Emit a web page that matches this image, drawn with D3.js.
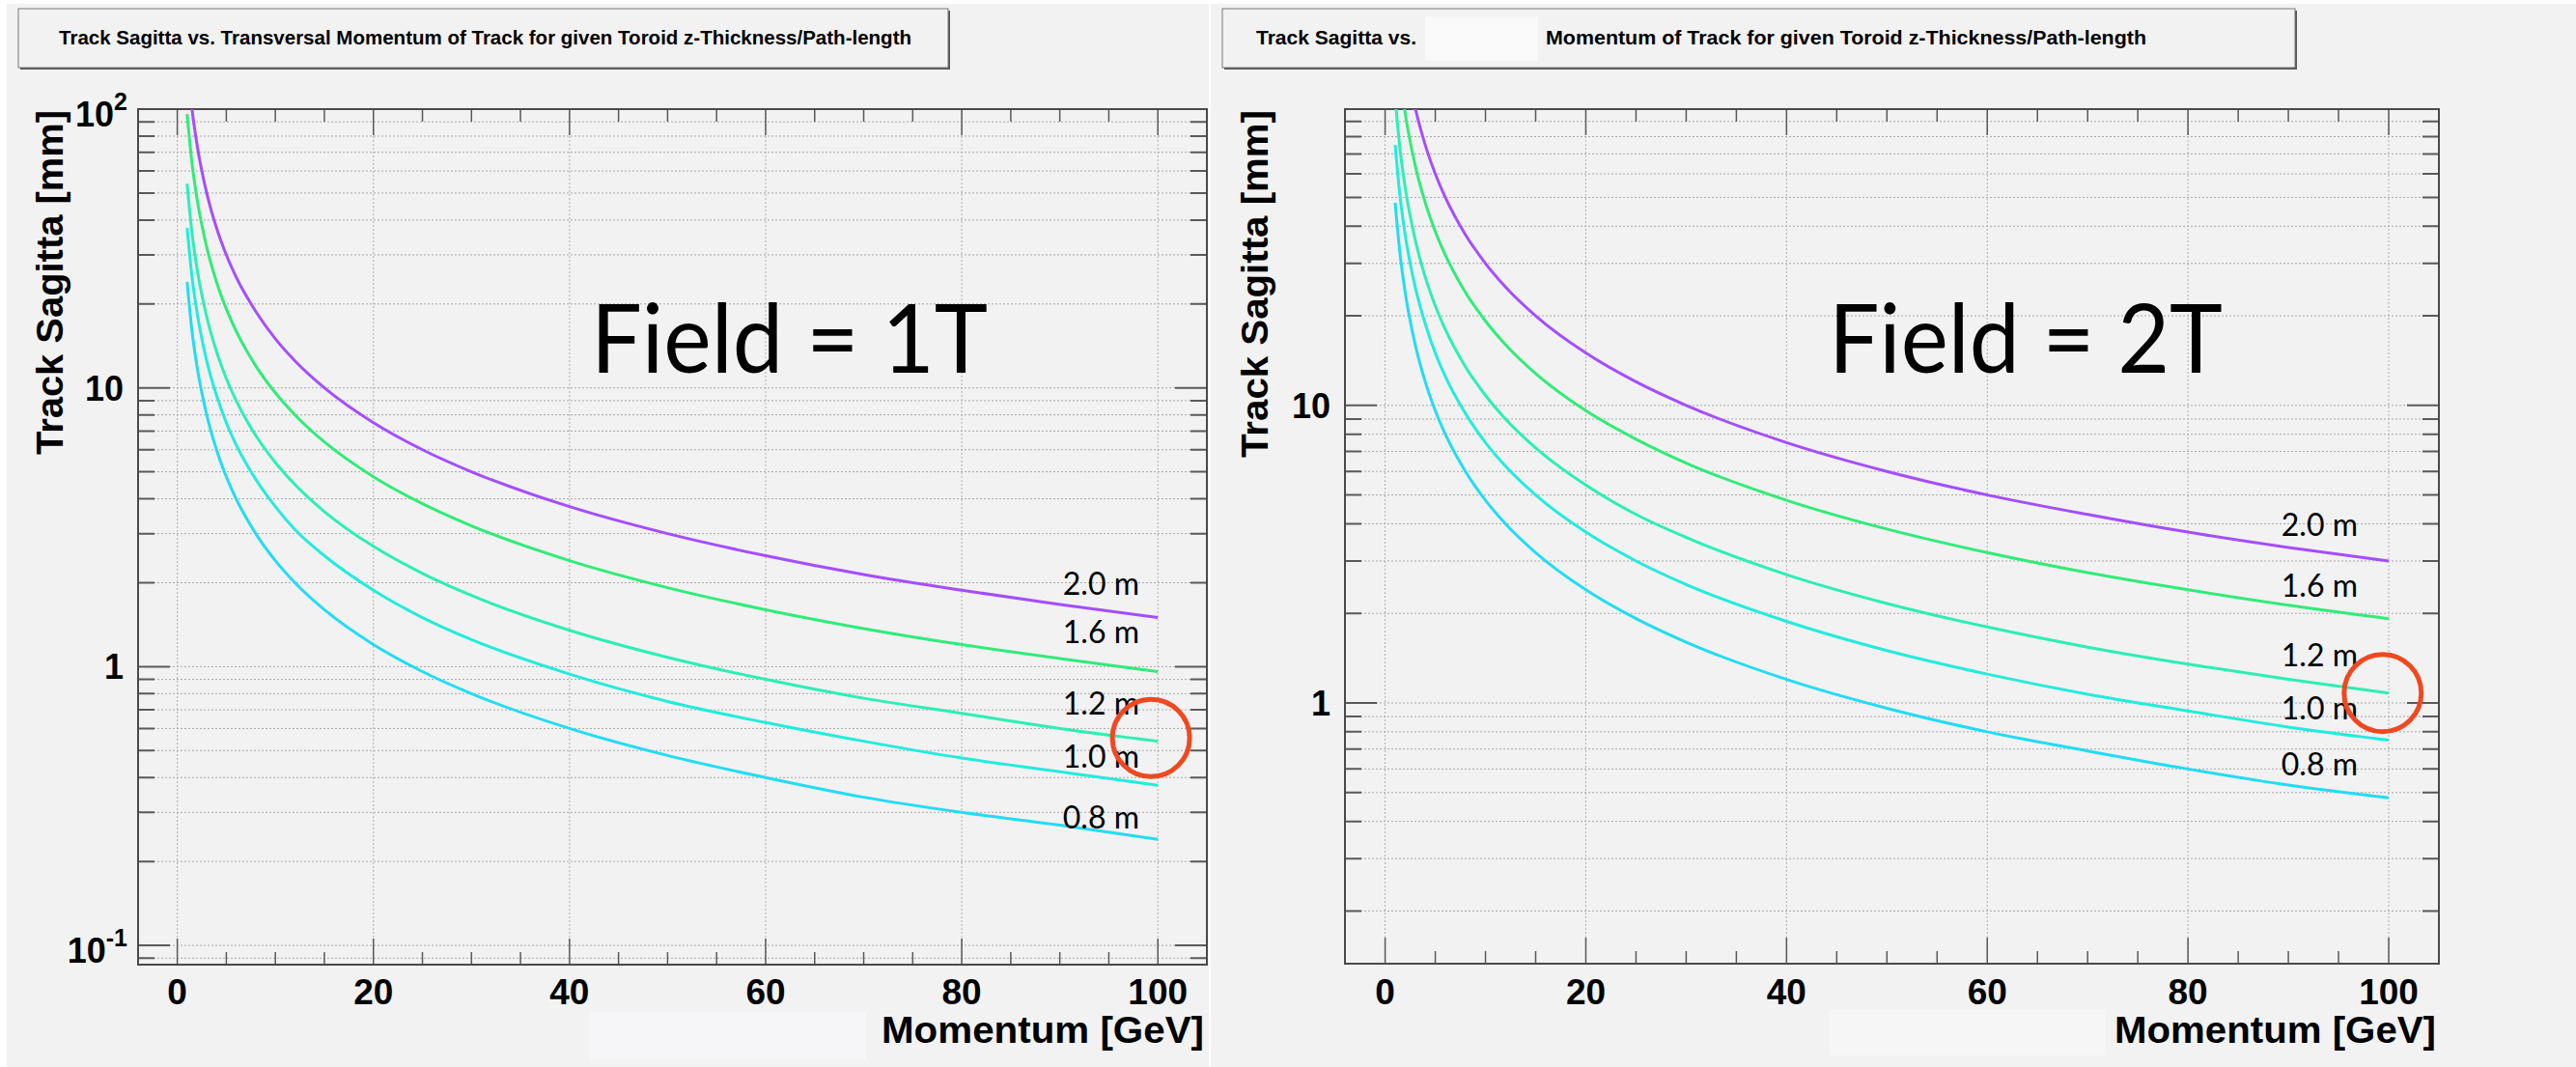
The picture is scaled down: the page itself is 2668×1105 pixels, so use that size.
<!DOCTYPE html>
<html>
<head>
<meta charset="utf-8">
<script src="https://cdn.jsdelivr.net/npm/d3@7"></script>
<style>
body { margin: 0; background: #fff; }
svg { display: block; }
</style>
</head>
<body>
<script>
const width = 2668;
const height = 1105;

// momentum values [GeV] where the curves were read
const momentum = [1, 1.5, 2, 3, 4, 5, 6, 8, 10, 12, 15, 20, 25, 30, 40, 50, 60, 70, 80, 90, 100];
const pathLengths = ["2.0 m", "1.6 m", "1.2 m", "1.0 m", "0.8 m"];

// sagitta [mm], field = 1T
const sagitta1T = [
	[150, 100, 75, 50, 37.5, 30, 25, 18.8, 15, 12.5, 10, 7.5, 6.0, 5.0, 3.75, 3.0, 2.5, 2.14, 1.88, 1.67, 1.5],
	[96, 64, 48, 32, 24, 19.2, 16, 12, 9.6, 8.0, 6.4, 4.8, 3.84, 3.2, 2.4, 1.92, 1.6, 1.37, 1.2, 1.07, 0.96],
	[54, 36, 27, 18, 13.5, 10.8, 9.0, 6.75, 5.4, 4.5, 3.6, 2.7, 2.16, 1.8, 1.35, 1.08, 0.9, 0.77, 0.68, 0.6, 0.54],
	[37.5, 25, 18.8, 12.5, 9.4, 7.5, 6.25, 4.7, 3.75, 3.1, 2.5, 1.88, 1.5, 1.25, 0.94, 0.75, 0.63, 0.54, 0.47, 0.42, 0.375],
	[24, 16, 12, 8, 6, 4.8, 4, 3, 2.4, 2, 1.6, 1.2, 0.96, 0.8, 0.6, 0.48, 0.4, 0.34, 0.3, 0.27, 0.24]
];
// sagitta [mm], field = 2T
const sagitta2T = [
	[300, 200, 150, 100, 75, 60, 50, 37.5, 30, 25, 20, 15, 12, 10, 7.5, 6, 5, 4.3, 3.75, 3.33, 3.0],
	[192, 128, 96, 64, 48, 38.4, 32, 24, 19.2, 16, 12.8, 9.6, 7.7, 6.4, 4.8, 3.84, 3.2, 2.74, 2.4, 2.13, 1.92],
	[108, 72, 54, 36, 27, 21.6, 18, 13.5, 10.8, 9, 7.2, 5.4, 4.3, 3.6, 2.7, 2.16, 1.8, 1.54, 1.35, 1.2, 1.08],
	[75, 50, 37.5, 25, 18.8, 15, 12.5, 9.4, 7.5, 6.25, 5, 3.75, 3, 2.5, 1.88, 1.5, 1.25, 1.07, 0.94, 0.83, 0.75],
	[48, 32, 24, 16, 12, 9.6, 8, 6, 4.8, 4, 3.2, 2.4, 1.92, 1.6, 1.2, 0.96, 0.8, 0.69, 0.6, 0.53, 0.48]
];

const xTickLabels = [0, 20, 40, 60, 80, 100];
const fieldLabels = ["Field = 1T", "Field = 2T"];
const titleText = "Track Sagitta vs. Transversal Momentum of Track for given Toroid z-Thickness/Path-length";
const titleParts = ["Track Sagitta vs.", "Momentum of Track for given Toroid z-Thickness/Path-length"];
const yTitle = "Track Sagitta [mm]";
const xTitle = "Momentum [GeV]";

const colors = ["#a44eff", "#30ec78", "#2cefb4", "#22ecdc", "#22dcf4"];

const svg = d3.select("body")
	.append("svg")
	.attr("width", width)
	.attr("height", height);

const panels = [
	{ bgX: 7, bgW: 1245, left: 143, right: 1250, top: 113, bottom: 999, yDomain: [0.0853, 100],
	  data: sagitta1T, field: fieldLabels[0], fieldX: 612, fieldW: 411,
	  yTitleX: 65, yTitleLen: 357, xTitleLen: 334,
	  labelX: 1180, labelAt: [1.816, 1.21, 0.672, 0.434, 0.263], circle: [99.3, 0.555], id: "a" },
	{ bgX: 1254, bgW: 1414, left: 1393, right: 2526, top: 113, bottom: 998, yDomain: [0.133, 99],
	  data: sagitta2T, field: fieldLabels[1], fieldX: 1894, fieldW: 408,
	  yTitleX: 1313, yTitleLen: 360, xTitleLen: 333,
	  labelX: 2442, labelAt: [3.63, 2.27, 1.33, 0.88, 0.57], circle: [99.4, 1.08], id: "b" }
];

function supLabel(sel, base, exp) {
	sel.append("tspan").text(base);
	sel.append("tspan").attr("font-size", 25).attr("dy", -17).text(exp);
}

function drawPanel(p) {
	const g = svg.append("g");

	g.append("rect")
		.attr("x", p.bgX).attr("y", 4)
		.attr("width", p.bgW).attr("height", height - 4)
		.attr("fill", "#f2f2f2");

	const x = d3.scaleLinear().domain([-4, 105]).range([p.left, p.right]);
	const y = d3.scaleLog().domain(p.yDomain).range([p.bottom, p.top]);

	const yTicks = y.ticks().filter(v => v >= p.yDomain[0] && v <= p.yDomain[1]);
	const isMajor = v => Math.abs(Math.log10(v) - Math.round(Math.log10(v))) < 1e-9;
	const xMinor = x.ticks(20).filter(v => v >= 0 && v <= 100);

	// grid
	g.selectAll(".hgrid")
		.data(yTicks)
		.enter()
		.append("line")
		.attr("x1", p.left).attr("x2", p.right)
		.attr("y1", d => y(d)).attr("y2", d => y(d))
		.style("stroke", "#a8a8a8")
		.style("stroke-width", 1)
		.style("stroke-dasharray", "2,2");

	g.selectAll(".vgrid")
		.data(xTickLabels)
		.enter()
		.append("line")
		.attr("x1", d => x(d)).attr("x2", d => x(d))
		.attr("y1", p.top).attr("y2", p.bottom)
		.style("stroke", "#b0b0b0")
		.style("stroke-width", 1)
		.style("stroke-dasharray", "2,2");

	// y ticks, both sides
	g.selectAll(".ytick")
		.data(yTicks)
		.enter()
		.append("path")
		.attr("d", d => {
			const len = isMajor(d) ? 33 : 17;
			const yy = y(d);
			return `M${p.left},${yy}h${len}M${p.right},${yy}h${-len}`;
		})
		.style("stroke", "#5a5a5a")
		.style("stroke-width", 2);

	// x ticks, bottom and top
	g.selectAll(".xtick")
		.data(xMinor)
		.enter()
		.append("path")
		.attr("d", d => {
			const len = d % 20 === 0 ? 27 : 13;
			const xx = x(d);
			return `M${xx},${p.bottom}v${-len}M${xx},${p.top}v${len}`;
		})
		.style("stroke", "#5a5a5a")
		.style("stroke-width", 1.5);

	// frame
	g.append("rect")
		.attr("x", p.left).attr("y", p.top)
		.attr("width", p.right - p.left).attr("height", p.bottom - p.top)
		.attr("fill", "none")
		.style("stroke", "#4a4a4a")
		.style("stroke-width", 2);

	// x tick labels
	g.selectAll(".xlabel")
		.data(xTickLabels)
		.enter()
		.append("text")
		.attr("x", d => x(d))
		.attr("y", 1040)
		.attr("text-anchor", "middle")
		.style("font-family", "'Liberation Sans', Arial, sans-serif")
		.style("font-weight", "bold")
		.style("font-size", "37px")
		.text(d => d);

	// y tick labels (decades only)
	yTicks.filter(isMajor).forEach(v => {
		const e = Math.round(Math.log10(v));
		const t = g.append("text")
			.attr("text-anchor", "end")
			.style("font-family", "'Liberation Sans', Arial, sans-serif")
			.style("font-weight", "bold")
			.style("font-size", "36px");
		if (e === 0 || e === 1) {
			t.attr("x", p.left - 15).attr("y", y(v) + 13).text(e === 0 ? "1" : "10");
		} else {
			t.attr("x", p.left - 11).attr("y", y(v) + 18);
			supLabel(t, "10", String(e));
		}
	});

	// axis titles
	g.append("text")
		.attr("transform", `translate(${p.yTitleX},${p.top + 1 + p.yTitleLen}) rotate(-90)`)
		.attr("textLength", p.yTitleLen)
		.attr("lengthAdjust", "spacingAndGlyphs")
		.style("font-family", "'Liberation Sans', Arial, sans-serif")
		.style("font-weight", "bold")
		.style("font-size", "39px")
		.text(yTitle);

	g.append("text")
		.attr("x", p.right - 3 - p.xTitleLen)
		.attr("y", 1080)
		.attr("textLength", p.xTitleLen)
		.attr("lengthAdjust", "spacingAndGlyphs")
		.style("font-family", "'Liberation Sans', Arial, sans-serif")
		.style("font-weight", "bold")
		.style("font-size", "39px")
		.text(xTitle);

	// curves
	svg.append("clipPath")
		.attr("id", "clip-" + p.id)
		.append("rect")
		.attr("x", p.left).attr("y", p.top)
		.attr("width", p.right - p.left).attr("height", p.bottom - p.top);

	const line = d3.line()
		.x((d, i) => x(momentum[i]))
		.y(d => y(d))
		.curve(d3.curveMonotoneX);

	g.append("g")
		.attr("clip-path", `url(#clip-${p.id})`)
		.selectAll("path")
		.data(p.data)
		.enter()
		.append("path")
		.attr("d", line)
		.attr("fill", "none")
		.style("stroke", (d, i) => colors[i])
		.style("stroke-width", 3);

	// curve labels
	g.selectAll(".clabel")
		.data(pathLengths)
		.enter()
		.append("text")
		.attr("x", p.labelX)
		.attr("y", (d, i) => y(p.labelAt[i]))
		.attr("text-anchor", "end")
		.style("font-family", "Lato, 'Open Sans', sans-serif")
		.style("font-size", "32px")
		.text(d => d);

	// field label
	g.append("text")
		.attr("x", p.fieldX)
		.attr("y", 386)
		.attr("textLength", p.fieldW)
		.attr("lengthAdjust", "spacingAndGlyphs")
		.style("font-family", "Lato, 'Open Sans', sans-serif")
		.style("font-size", "99px")
		.text(p.field);

	// highlight circle
	g.append("circle")
		.attr("cx", x(p.circle[0]))
		.attr("cy", y(p.circle[1]))
		.attr("r", 40)
		.attr("fill", "none")
		.style("stroke", "#f04820")
		.style("stroke-width", 5);
}

panels.forEach(drawPanel);

// title boxes
function titleBox(x0, w) {
	svg.append("rect")
		.attr("x", x0 + 2).attr("y", 11)
		.attr("width", w).attr("height", 61)
		.attr("fill", "#555");
	svg.append("rect")
		.attr("x", x0).attr("y", 9)
		.attr("width", w).attr("height", 61)
		.attr("fill", "#f2f2f2")
		.style("stroke", "#777")
		.style("stroke-width", 1);
}
titleBox(19, 963);
titleBox(1266, 1111);

const titleStyle = t => t
	.style("font-family", "'Liberation Sans', Arial, sans-serif")
	.style("font-weight", "bold")
	.style("font-size", "21px")
	.attr("lengthAdjust", "spacingAndGlyphs");

titleStyle(svg.append("text").attr("x", 61).attr("y", 46).attr("textLength", 883)).text(titleText);
titleStyle(svg.append("text").attr("x", 1301).attr("y", 46).attr("textLength", 166)).text(titleParts[0]);
titleStyle(svg.append("text").attr("x", 1601).attr("y", 46).attr("textLength", 622)).text(titleParts[1]);

// pale patches left over on the slide
svg.append("rect").attr("x", 1476).attr("y", 17).attr("width", 117).attr("height", 46).attr("fill", "#f9f9f9");
svg.append("rect").attr("x", 610).attr("y", 1048).attr("width", 287).attr("height", 49).attr("fill", "#f6f6f8");
svg.append("rect").attr("x", 1895).attr("y", 1046).attr("width", 285).attr("height", 47).attr("fill", "#f6f6f6");
</script>
</body>
</html>
